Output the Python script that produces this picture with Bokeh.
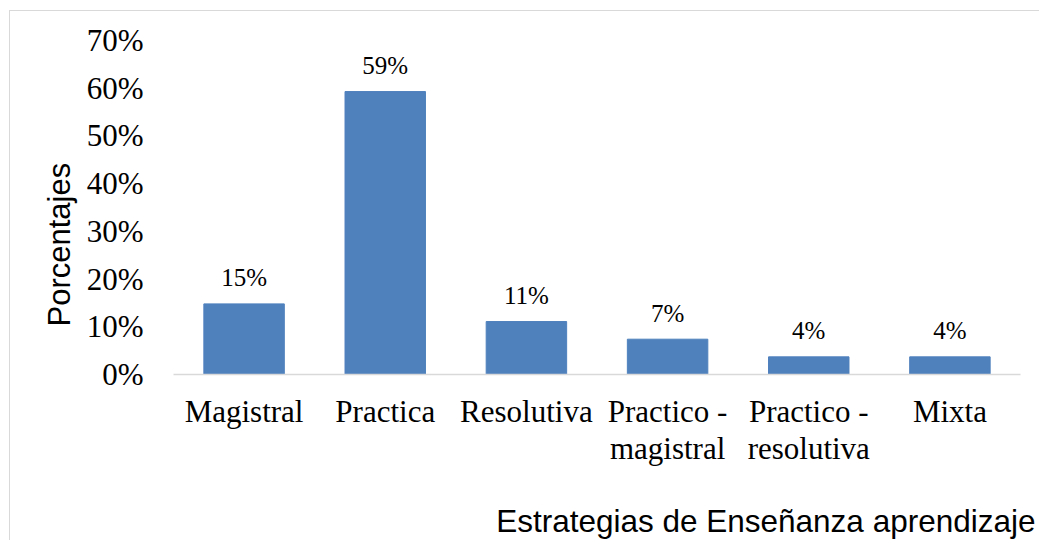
import math
from bokeh.plotting import figure
from bokeh.models import (ColumnDataSource, FactorRange, Range1d, FixedTicker,
                          NumeralTickFormatter, Title)
from bokeh.core.properties import value
from bokeh.embed import file_html
from bokeh.resources import INLINE

categories = ["Magistral", "Practica", "Resolutiva", "Practico -\nmagistral",
              "Practico -\nresolutiva", "Mixta"]
values = [0.148, 0.593, 0.111, 0.074, 0.037, 0.037]
value_labels = ["15%", "59%", "11%", "7%", "4%", "4%"]
y_ticks = [0.0, 0.1, 0.2, 0.3, 0.4, 0.5, 0.6, 0.7]
y_title = "Porcentajes"
x_title = "Estrategias de Enseñanza aprendizaje"

src = ColumnDataSource(dict(cat=categories, val=values, lab=value_labels))

p = figure(width=1039, height=540, x_range=FactorRange(*categories, range_padding=0),
           y_range=Range1d(0, 0.7), output_backend="svg", toolbar_location=None,
           min_border_left=173, min_border_right=19, min_border_top=40,
           min_border_bottom=165)
p.outline_line_color = None
p.border_fill_color = None
p.xgrid.grid_line_color = None
p.ygrid.grid_line_color = None
p.x_range.factor_padding = 0
p.styles = {
    "background-color": "#ffffff",
    "background-image": "linear-gradient(#d9d9d9,#d9d9d9), linear-gradient(#d9d9d9,#d9d9d9)",
    "background-position": "9px 10px, 9px 10px",
    "background-size": "1px 100%, 100% 1px",
    "background-repeat": "no-repeat, no-repeat",
}

p.vbar(x="cat", top="val", width=0.57, source=src, fill_color="#4F81BD",
       line_color="#4F81BD")

p.text(x="cat", y="val", text="lab", source=src, y_offset=-26,
       text_align="center", text_baseline="alphabetic",
       text_font=value("Liberation Serif"), text_font_size="25px",
       text_color="#000000")

# y axis
p.yaxis.ticker = FixedTicker(ticks=y_ticks)
p.yaxis.formatter = NumeralTickFormatter(format="0%")
p.yaxis.axis_line_color = None
p.yaxis.major_tick_line_color = None
p.yaxis.minor_tick_line_color = None
p.yaxis.major_tick_out = 0
p.yaxis.major_tick_in = 0
p.yaxis.major_label_standoff = 30
p.yaxis.major_label_text_font = "Liberation Serif"
p.yaxis.major_label_text_font_size = "31px"
p.yaxis.major_label_text_color = "#000000"

# x axis
p.xaxis.axis_line_color = "#d9d9d9"
p.xaxis.axis_line_width = 1.5
p.xaxis.major_tick_line_color = None
p.xaxis.minor_tick_line_color = None
p.xaxis.major_tick_out = 0
p.xaxis.major_tick_in = 0
p.xaxis.major_label_standoff = 19
p.xaxis.major_label_text_font = "Liberation Serif"
p.xaxis.major_label_text_font_size = "31px"
p.xaxis.major_label_text_line_height = 1.07
p.xaxis.major_label_text_color = "#000000"

p.add_layout(Title(text=y_title, align="left", offset=48, standoff=13,
                   text_font="Liberation Sans", text_font_size="31px",
                   text_font_style="normal", text_color="#000000"), "left")
# blank spacer between the category labels and the x title
p.add_layout(Title(text=" ", standoff=17, text_font_size="10px"), "below")
p.add_layout(Title(text=x_title, align="right", offset=-15, standoff=4,
                   text_font="Liberation Sans", text_font_size="31.5px",
                   text_font_style="normal", text_color="#000000"), "below")

open("out.html", "w").write(file_html(p, INLINE))
